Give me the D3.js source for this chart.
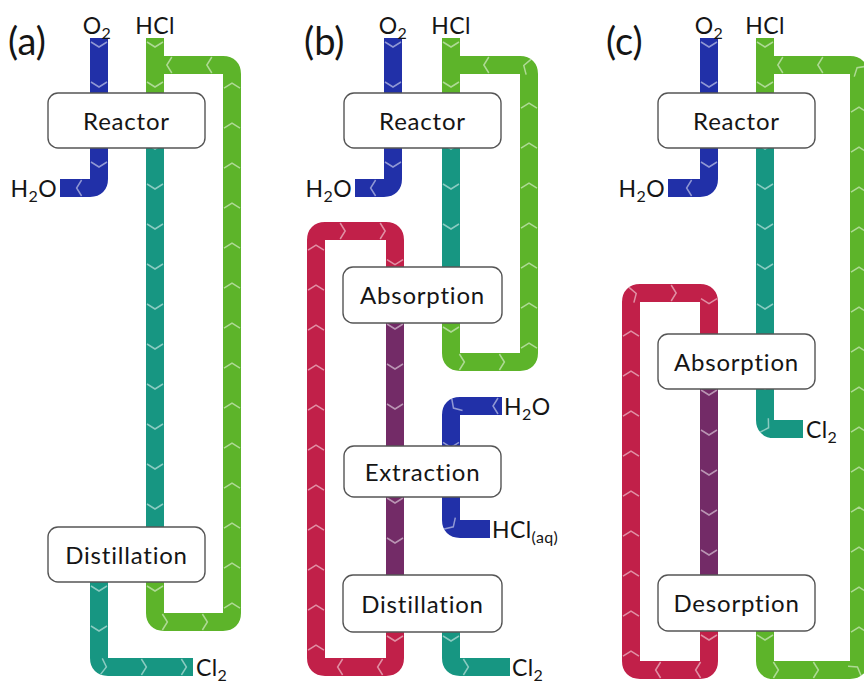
<!DOCTYPE html>
<html>
<head>
<meta charset="utf-8">
<script src="https://cdn.jsdelivr.net/npm/d3@7"></script>
<style>
  body { margin: 0; background: #fff; }
  text { font-family: Lato, "Open Sans", sans-serif; fill: #151515; font-variant-ligatures: none; }
</style>
</head>
<body>
<svg></svg>
<script>
// panel offsets (x origin of each sub-diagram)
var panels = [
  {id: "a", label: "(a)", x: 0},
  {id: "b", label: "(b)", x: 296},
  {id: "c", label: "(c)", x: 610}
];

// unit operations: panel, name, left/right (panel relative), top/bottom
var units = [
  {p: "a", name: "Reactor", x0: 48, x1: 205, y0: 93, y1: 148},
  {p: "a", name: "Distillation", x0: 48, x1: 205, y0: 527, y1: 582},
  {p: "b", name: "Reactor", x0: 48, x1: 205, y0: 93, y1: 148},
  {p: "b", name: "Absorption", x0: 47, x1: 206, y0: 267, y1: 323},
  {p: "b", name: "Extraction", x0: 48, x1: 205, y0: 446, y1: 497},
  {p: "b", name: "Distillation", x0: 47, x1: 206, y0: 575, y1: 632},
  {p: "c", name: "Reactor", x0: 48, x1: 205, y0: 93, y1: 148},
  {p: "c", name: "Absorption", x0: 48, x1: 205, y0: 334, y1: 389},
  {p: "c", name: "Desorption", x0: 48, x1: 205, y0: 575, y1: 631}
];

// streams: route points in flow order [x (panel relative), y]
var streams = [
  // (a)
  {p: "a", kind: "water", pts: [[99, 38], [99, 188], [60, 188]]},
  {p: "a", kind: "hcl", pts: [[155, 38], [155, 100]]},
  {p: "a", kind: "hcl", pts: [[155, 582], [155, 622], [232, 622], [232, 65], [155, 65]]},
  {p: "a", kind: "cl2", pts: [[155, 140], [155, 535]]},
  {p: "a", kind: "cl2", pts: [[99, 582], [99, 667], [193, 667]]},
  // (b)
  {p: "b", kind: "water", pts: [[97, 38], [97, 188], [59, 188]]},
  {p: "b", kind: "hcl", pts: [[155, 38], [155, 100]]},
  {p: "b", kind: "hcl", pts: [[155, 323], [155, 362], [233, 362], [233, 65], [155, 65]]},
  {p: "b", kind: "cl2", pts: [[155, 140], [155, 272]]},
  {p: "b", kind: "solvent", pts: [[99, 632], [99, 667], [20, 667], [20, 231], [99, 231], [99, 272]]},
  {p: "b", kind: "loaded", pts: [[99, 320], [99, 450]]},
  {p: "b", kind: "loaded", pts: [[99, 494], [99, 580]]},
  {p: "b", kind: "water", pts: [[206, 406], [155, 406], [155, 529], [194, 529]]},
  {p: "b", kind: "cl2", pts: [[155, 632], [155, 667], [214, 667]]},
  // (c)
  {p: "c", kind: "water", pts: [[99, 38], [99, 188], [58, 188]]},
  {p: "c", kind: "hcl", pts: [[155, 38], [155, 100]]},
  {p: "c", kind: "hcl", pts: [[155, 631], [155, 670], [249, 670], [249, 65], [155, 65]]},
  {p: "c", kind: "cl2", pts: [[155, 140], [155, 429], [193, 429]]},
  {p: "c", kind: "solvent", pts: [[99, 631], [99, 670], [21, 670], [21, 293], [99, 293], [99, 338]]},
  {p: "c", kind: "loaded", pts: [[99, 386], [99, 580]]}
];

// stream end labels: text, subscript, anchor
var labels = [
  {p: "a", t: "O", sub: "2", x: 97, y: 34, anchor: "middle"},
  {p: "a", t: "HCl", sub: "", x: 155, y: 34, anchor: "middle"},
  {p: "a", t: "H", sub: "2", rest: "O", x: 57, y: 197, anchor: "end"},
  {p: "a", t: "Cl", sub: "2", x: 196, y: 676, anchor: "start"},
  {p: "b", t: "O", sub: "2", x: 97, y: 34, anchor: "middle"},
  {p: "b", t: "HCl", sub: "", x: 155, y: 34, anchor: "middle"},
  {p: "b", t: "H", sub: "2", rest: "O", x: 56, y: 197, anchor: "end"},
  {p: "b", t: "H", sub: "2", rest: "O", x: 208, y: 415, anchor: "start"},
  {p: "b", t: "HCl", sub: "(aq)", x: 196, y: 538, anchor: "start"},
  {p: "b", t: "Cl", sub: "2", x: 216, y: 676, anchor: "start"},
  {p: "c", t: "O", sub: "2", x: 99, y: 34, anchor: "middle"},
  {p: "c", t: "HCl", sub: "", x: 155, y: 34, anchor: "middle"},
  {p: "c", t: "H", sub: "2", rest: "O", x: 55, y: 197, anchor: "end"},
  {p: "c", t: "Cl", sub: "2", x: 196, y: 438, anchor: "start"}
];

var colors = d3.scaleOrdinal()
  .domain(["water", "hcl", "cl2", "solvent", "loaded"])
  .range(["#2130a8", "#5db42a", "#179682", "#c12049", "#732b67"]);

var screen = {width: 864, height: 683};
var pipeWidth = 18;

var svg = d3.select("svg")
  .attr("width", screen.width)
  .attr("height", screen.height);

var offset = {};
panels.forEach(function(p){ offset[p.id] = p.x; });

var xScale = d3.scaleLinear().domain([0, screen.width]).range([0, screen.width]);
var yScale = d3.scaleLinear().domain([0, screen.height]).range([0, screen.height]);

function px(p, x){ return xScale(offset[p] + x); }

// path with rounded outside corners (radius = half pipe width)
function route(s){
  var pts = s.pts.map(function(q){ return [px(s.p, q[0]), yScale(q[1])]; });
  var r = pipeWidth / 2;
  var d = "M" + pts[0][0] + "," + pts[0][1];
  for (var i = 1; i < pts.length - 1; i++) {
    var a = pts[i-1], b = pts[i], c = pts[i+1];
    var l1 = Math.hypot(b[0]-a[0], b[1]-a[1]), l2 = Math.hypot(c[0]-b[0], c[1]-b[1]);
    var u1 = [(b[0]-a[0])/l1, (b[1]-a[1])/l1], u2 = [(c[0]-b[0])/l2, (c[1]-b[1])/l2];
    d += "L" + (b[0]-u1[0]*r) + "," + (b[1]-u1[1]*r);
    d += "Q" + b[0] + "," + b[1] + " " + (b[0]+u2[0]*r) + "," + (b[1]+u2[1]*r);
  }
  var e = pts[pts.length-1];
  return d + "L" + e[0] + "," + e[1];
}

var pipes = svg.append("g").classed("pipes", true);

var paths = pipes.selectAll("path")
  .data(streams)
  .enter()
  .append("path")
  .attr("d", route)
  .attr("fill", "none")
  .attr("stroke", function(d){ return colors(d.kind); })
  .attr("stroke-width", pipeWidth);

// chevrons along each pipe pointing in flow direction
var marks = svg.append("g").classed("chevrons", true);
paths.each(function(d){
  var node = this;
  var len = node.getTotalLength();
  var spots = d3.range(9, len - 4, 40);
  spots.forEach(function(l){
    var p = node.getPointAtLength(l);
    var q = node.getPointAtLength(Math.min(len, l + 1));
    var p0 = node.getPointAtLength(Math.max(0, l - 1));
    var ang = Math.atan2(q.y - p0.y, q.x - p0.x) * 180 / Math.PI;
    marks.append("path")
      .attr("d", "M-5,-8L0,0L-5,8")
      .attr("transform", "translate(" + p.x + "," + p.y + ") rotate(" + ang + ")")
      .attr("fill", "none")
      .attr("stroke", "#fff")
      .attr("stroke-opacity", 0.5)
      .attr("stroke-width", 1.5);
  });
});

// unit boxes
var boxes = svg.append("g").classed("units", true)
  .selectAll("g")
  .data(units)
  .enter()
  .append("g");

boxes.append("rect")
  .attr("x", function(d){ return px(d.p, d.x0); })
  .attr("y", function(d){ return yScale(d.y0); })
  .attr("width", function(d){ return xScale(d.x1) - xScale(d.x0); })
  .attr("height", function(d){ return yScale(d.y1) - yScale(d.y0); })
  .attr("rx", 10)
  .attr("fill", "#fff")
  .attr("stroke", "#555")
  .attr("stroke-width", 1.4);

boxes.append("text")
  .attr("x", function(d){ return px(d.p, (d.x0 + d.x1) / 2); })
  .attr("y", function(d){ return yScale((d.y0 + d.y1) / 2) + 9; })
  .attr("text-anchor", "middle")
  .attr("font-size", 24)
  .attr("letter-spacing", 0.8)
  .text(function(d){ return d.name; });

// stream labels
var tl = svg.append("g").classed("labels", true)
  .selectAll("text")
  .data(labels)
  .enter()
  .append("text")
  .attr("x", function(d){ return px(d.p, d.x); })
  .attr("y", function(d){ return yScale(d.y); })
  .attr("text-anchor", function(d){ return d.anchor; })
  .attr("font-size", 23)
  .attr("letter-spacing", 0.4);

tl.append("tspan").text(function(d){ return d.t; });
tl.append("tspan")
  .attr("font-size", 16)
  .attr("dy", 5)
  .text(function(d){ return d.sub; });
tl.filter(function(d){ return d.rest; })
  .append("tspan")
  .attr("dy", -5)
  .text(function(d){ return d.rest; });

// panel letters
svg.append("g").selectAll("text")
  .data(panels)
  .enter()
  .append("text")
  .attr("x", function(d){ return xScale(d.x + (d.id == "c" ? -4 : 8)); })
  .attr("y", 55)
  .attr("font-size", 38)
  .text(function(d){ return d.label; });
</script>
</body>
</html>
